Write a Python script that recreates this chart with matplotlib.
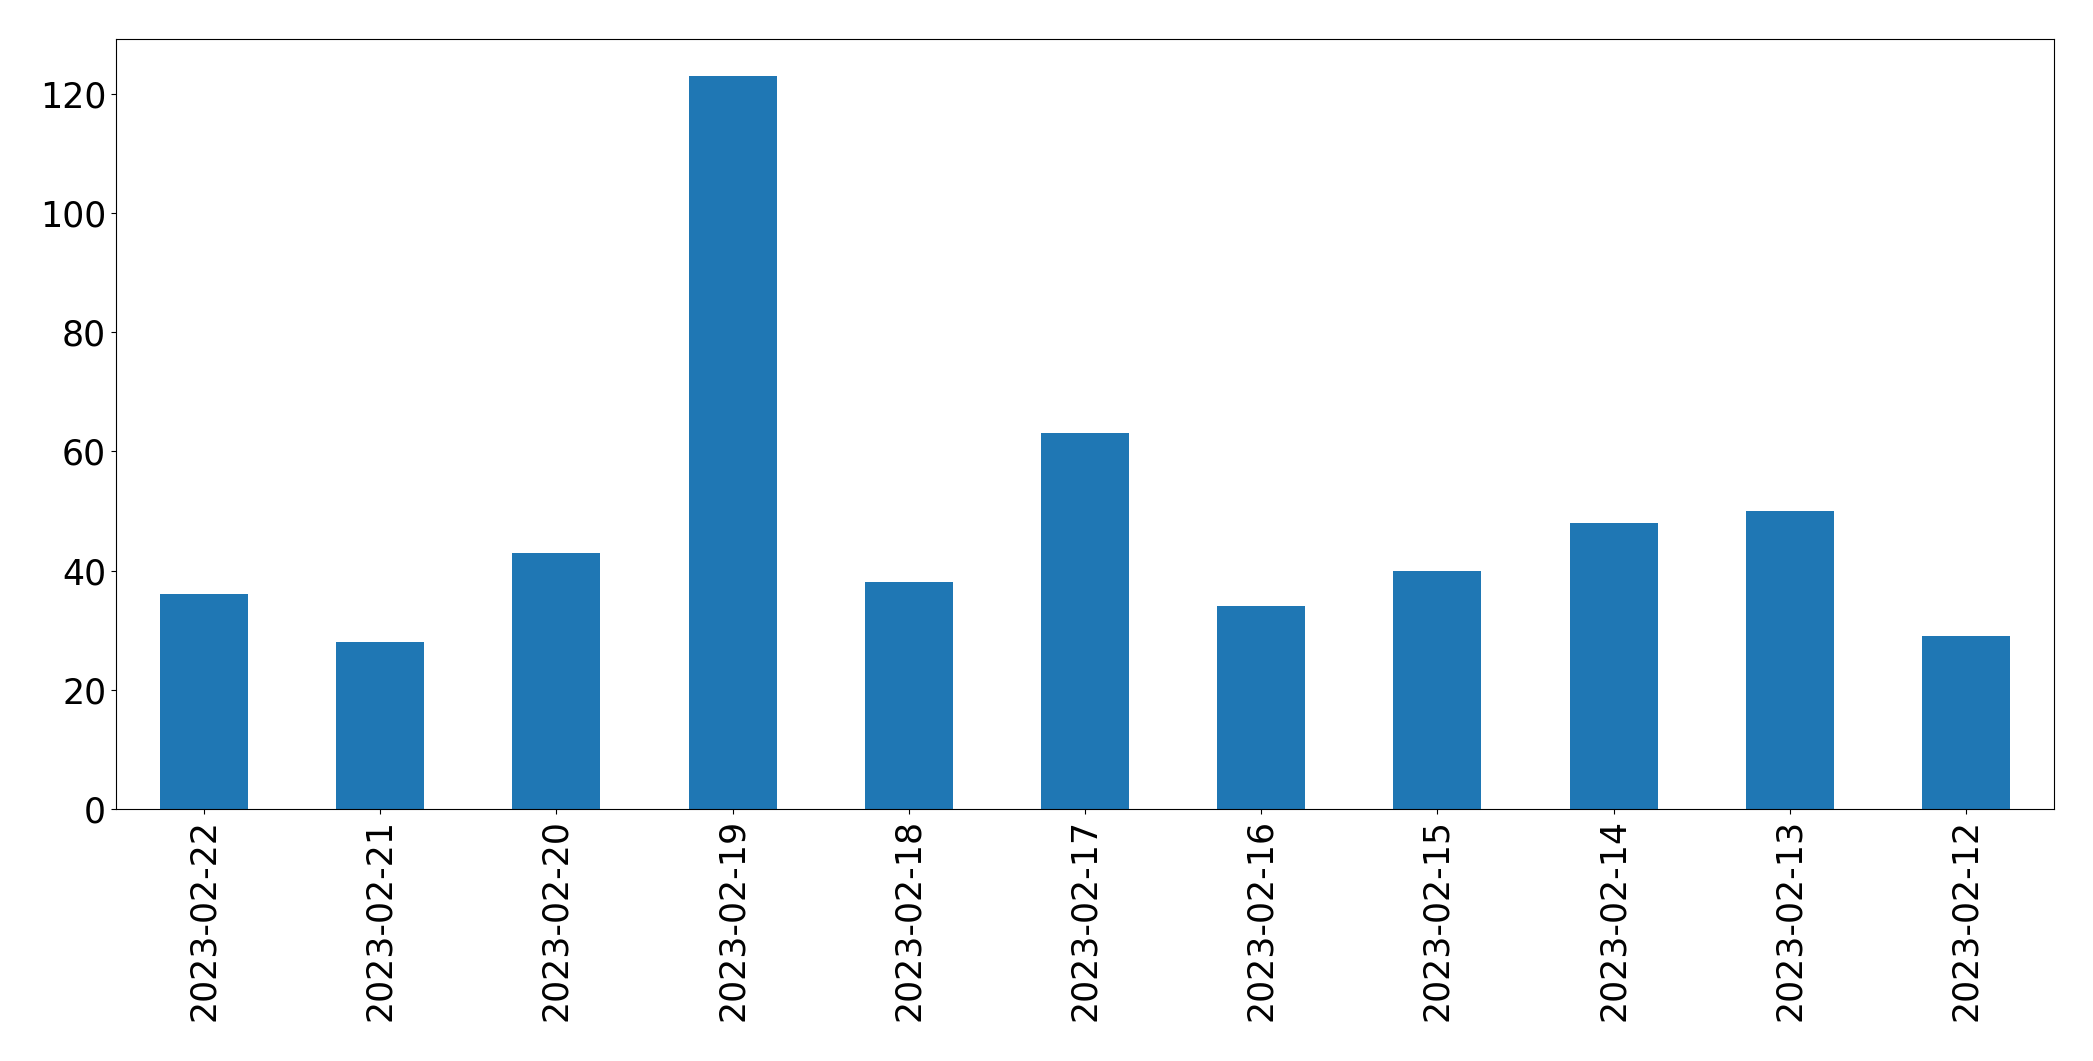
import matplotlib
matplotlib.use('Agg')
import matplotlib.pyplot as plt
import pandas as pd

# daily counts, newest first
dates = ['2023-02-22', '2023-02-21', '2023-02-20', '2023-02-19', '2023-02-18',
         '2023-02-17', '2023-02-16', '2023-02-15', '2023-02-14', '2023-02-13',
         '2023-02-12']
counts = [36, 28, 43, 123, 38, 63, 34, 40, 48, 50, 29]

s = pd.Series(counts, index=dates)

fig = plt.figure(figsize=(20.93, 10.61), dpi=100)
ax = fig.add_axes([0.0554, 0.2375, 0.9260, 0.7257])
s.plot(kind='bar', ax=ax, color='#1f77b4')
ax.tick_params(axis='both', labelsize=25)
ax.set_xlabel('')

fig.savefig('out.png', dpi=100)
